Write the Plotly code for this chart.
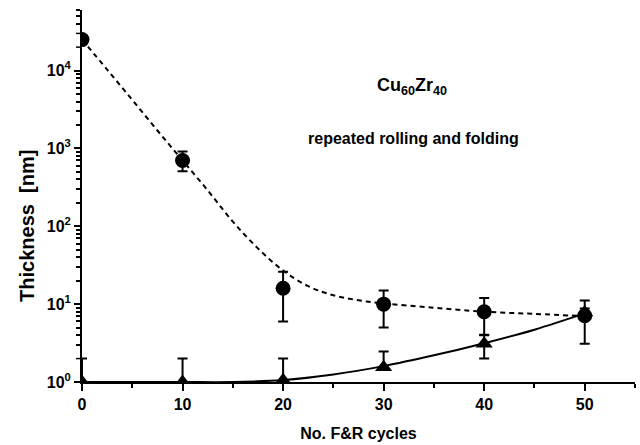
import math
import plotly.graph_objects as go

# ---- data ----
cycles = [0, 10, 20, 30, 40, 50]

thick_circ = [25000, 700, 16, 10, 8, 7.1]
circ_err_plus = [0, 210, 10, 5, 4, 4]
circ_err_minus = [0, 190, 10, 5, 4, 4]

thick_tri = [1.0, 1.0, 1.05, 1.55, 3.1, 7.8]
tri_err_plus = [1.0, 1.0, 0.95, 0.92, 0.95, 1.0]
tri_err_minus = [0.0, 0.0, 0.0, 0.0, 1.1, 1.0]

fit_dash_x = [0, 2.5, 5, 7.5, 10, 12.5, 15, 17.5, 20, 22.5, 25, 27.5, 30, 35, 40, 45, 50]
fit_dash_y = [25000, 10300, 4200, 1700, 700, 290, 115, 52, 27, 17, 13, 11.2, 10.2, 9.0, 8.0, 7.5, 7.0]

fit_solid_x = [0, 5, 10, 15, 20, 25, 30, 35, 40, 45, 50]
fit_solid_y = [1.0, 1.0, 1.0, 1.0, 1.06, 1.25, 1.6, 2.2, 3.15, 4.7, 7.6]

ytick_vals = [1, 10, 100, 1000, 10000]
ytick_text = ["10<sup>0</sup>", "10<sup>1</sup>", "10<sup>2</sup>", "10<sup>3</sup>", "10<sup>4</sup>"]

FONT = "Liberation Sans, Arial, sans-serif"

# ---- layout geometry ----
W, H = 640, 445
ML, MR, MT, MB = 82, 5, 10, 56
PW, PH = W - ML - MR, H - MT - MB
YMAX_LOG = 4.778


def ypix(v):
    return MT + (YMAX_LOG - math.log10(v)) / YMAX_LOG * PH


def P(px, py):
    return (px - ML) / PW, 1 - (py - MT) / PH


fig = go.Figure()

fig.add_trace(go.Scatter(x=fit_dash_x, y=fit_dash_y, mode="lines",
                         line=dict(color="black", width=2, dash="5px,4px", shape="spline"),
                         showlegend=False, hoverinfo="skip"))
fig.add_trace(go.Scatter(x=fit_solid_x, y=fit_solid_y, mode="lines",
                         line=dict(color="black", width=2, shape="spline"),
                         showlegend=False, hoverinfo="skip"))

fig.add_trace(go.Scatter(x=cycles, y=thick_tri, mode="markers",
                         marker=dict(symbol="triangle-up", size=15, color="black"),
                         error_y=dict(type="data", array=tri_err_plus, arrayminus=tri_err_minus,
                                      color="black", thickness=2, width=5),
                         showlegend=False))
fig.add_trace(go.Scatter(x=cycles, y=thick_circ, mode="markers",
                         marker=dict(symbol="circle", size=15, color="black"),
                         error_y=dict(type="data", array=circ_err_plus, arrayminus=circ_err_minus,
                                      color="black", thickness=2, width=5),
                         showlegend=False))

minor_y = [m * 10 ** d for d in range(0, 5) for m in range(2, 10)]

# ---- white masks emulating clipping at the plot edge, then redraw covered ticks ----
shapes = []


def rect(x0, y0, x1, y1):
    a0, b0 = P(x0, y0)
    a1, b1 = P(x1, y1)
    shapes.append(dict(type="rect", xref="paper", yref="paper", x0=a0, y0=b1, x1=a1, y1=b0,
                       fillcolor="white", line=dict(width=0), layer="above"))


def seg(x0, y0, x1, y1, w):
    a0, b0 = P(x0, y0)
    a1, b1 = P(x1, y1)
    shapes.append(dict(type="line", xref="paper", yref="paper", x0=a0, y0=b0, x1=a1, y1=b1,
                       line=dict(color="black", width=w), layer="above"))


yc = ypix(thick_circ[0])
rect(72.5, yc - 9, 80, yc + 9)
rect(72.5, ypix(2) - 4, 80, H - MB + 5)
rect(80, H - MB + 2, 94, H - MB + 5)
for v in minor_y:
    py = ypix(v)
    if (yc - 9 <= py <= yc + 9) or (ypix(2) - 4 <= py <= H - MB + 5):
        seg(76, py, 80, py, 1.5)
seg(74, ypix(1), 80, ypix(1), 2)
seg(ML, H - MB + 2, ML, H - MB + 9, 2)

fig.update_layout(
    width=W, height=H,
    margin=dict(l=ML, r=MR, t=MT, b=MB),
    paper_bgcolor="white", plot_bgcolor="white",
    font=dict(family=FONT, color="black", size=16),
    shapes=shapes,
    xaxis=dict(
        range=[0, 55], tickmode="linear", tick0=0, dtick=10,
        showline=True, linecolor="black", linewidth=2,
        ticks="outside", ticklen=7, tickwidth=2, tickcolor="black",
        showgrid=False, zeroline=False,
        tickfont=dict(family=FONT, size=16, weight="bold"),
        minor=dict(tickmode="linear", tick0=0, dtick=5, ticks="outside", ticklen=4,
                   tickwidth=2, tickcolor="black", showgrid=False),
        title=dict(text="No. F&R cycles", font=dict(family=FONT, size=16, weight="bold"), standoff=16),
    ),
    yaxis=dict(
        type="log", range=[0, YMAX_LOG],
        tickmode="array", tickvals=ytick_vals, ticktext=ytick_text,
        showline=True, linecolor="black", linewidth=2,
        ticks="outside", ticklen=6, tickwidth=2, tickcolor="black",
        showgrid=False, zeroline=False,
        tickfont=dict(family=FONT, size=16, weight="bold"),
        minor=dict(tickmode="array", tickvals=minor_y, ticks="outside", ticklen=4,
                   tickwidth=1.5, tickcolor="black", showgrid=False),
    ),
)

annots = [
    ("Thickness  [nm]", 27, 230, 20, -90),
    ("Cu<sub>60</sub>Zr<sub>40</sub>", 412, 88, 18, 0),
    ("repeated rolling and folding", 413, 141, 16, 0),
]
for text, px, py, size, ang in annots:
    ax_, ay_ = P(px, py)
    fig.add_annotation(text=text, x=ax_, y=ay_, xref="paper", yref="paper",
                       xanchor="center", yanchor="middle", textangle=ang,
                       showarrow=False, font=dict(family=FONT, size=size, weight="bold"))

fig.write_html("out.html")
